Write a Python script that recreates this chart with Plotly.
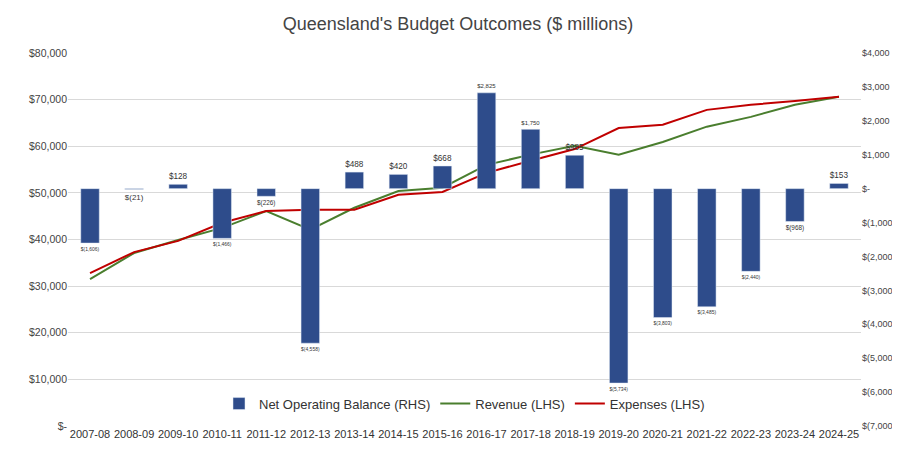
import plotly.graph_objects as go

years = ["2007-08","2008-09","2009-10","2010-11","2011-12","2012-13","2013-14","2014-15","2015-16",
         "2016-17","2017-18","2018-19","2019-20","2020-21","2021-22","2022-23","2023-24","2024-25"]
nob = [-1606,-21,128,-1466,-226,-4558,488,420,668,2825,1750,985,-5734,-3803,-3485,-2440,-968,153]
revenue = [31500,37100,39900,42500,46100,42100,46800,50400,51100,56000,58200,60100,58200,60900,64200,66300,68900,70600]
expenses = [32800,37300,39700,43600,46100,46400,46400,49600,50200,54300,56900,59400,63900,64600,67800,68900,69700,70600]

left_ticks = list(range(0, 80001, 10000))
right_ticks = list(range(-7000, 4001, 1000))

def fmt(v):
    if v == 0:
        return "$-"
    s = f"{abs(v):,}"
    return f"$({s})" if v < 0 else f"${s}"

font = "Liberation Sans"
fig = go.Figure()
fig.add_trace(go.Bar(x=years, y=nob, name="Net Operating Balance (RHS)", yaxis="y2",
                     marker_color="#2E4C8B", width=0.42,
                     text=[fmt(v) for v in nob], textposition="outside",
                     textfont=dict(size=12, color="#333"), cliponaxis=False))
fig.add_trace(go.Scatter(x=years, y=revenue, name="Revenue (LHS)", mode="lines",
                         line=dict(color="#4A7E2E", width=2)))
fig.add_trace(go.Scatter(x=years, y=expenses, name="Expenses (LHS)", mode="lines",
                         line=dict(color="#C00000", width=2)))

fig.update_layout(
    width=900, height=450, plot_bgcolor="white", paper_bgcolor="white",
    font=dict(family=font, color="#444", size=11),
    title=dict(text="Queensland's Budget Outcomes ($ millions)", x=0.5, y=0.965, yanchor="middle",
               font=dict(size=18, color="#444")),
    margin=dict(l=60, r=42, t=45, b=32),
    bargap=0.5,
    xaxis=dict(type="category", showgrid=False, tickfont=dict(size=11, color="#333"),
               showline=False, ticks=""),
    yaxis=dict(range=[0, 80000], tickvals=left_ticks, ticktext=[fmt(v) for v in left_ticks],
               showgrid=True, gridcolor="#D9D9D9", zeroline=False, tickfont=dict(size=10.5, color="#444")),
    yaxis2=dict(range=[-7000, 4000], overlaying="y", side="right", tickvals=right_ticks,
                ticktext=[fmt(v) for v in right_ticks], showgrid=False, zeroline=False,
                tickfont=dict(size=9, color="#444")),
    legend=dict(orientation="h", x=0.5, xanchor="center", y=0.06, yanchor="middle",
                bgcolor="rgba(0,0,0,0)", font=dict(size=13, color="#333")),
)
fig.write_html("out.html")
